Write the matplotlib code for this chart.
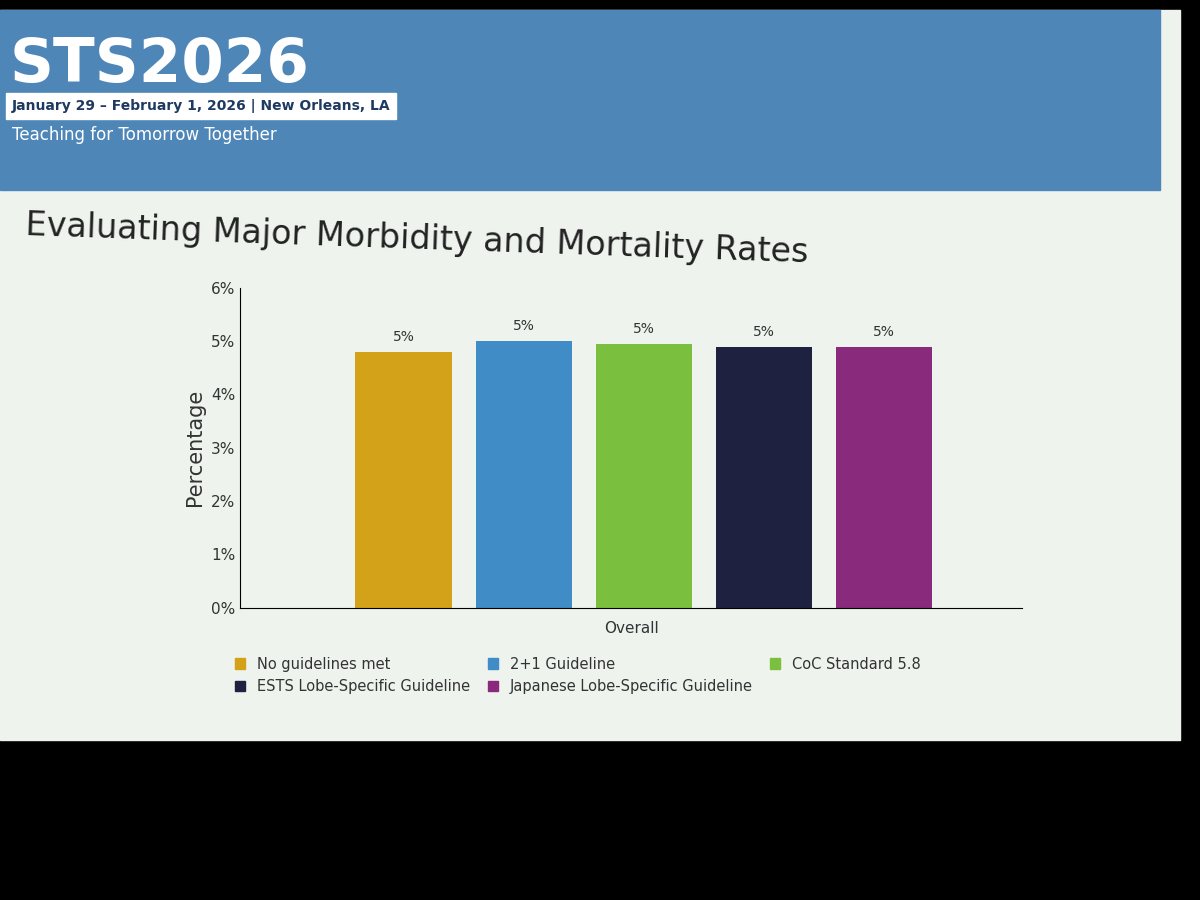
import matplotlib
matplotlib.use("Agg")
import matplotlib.pyplot as plt
from matplotlib.patches import Rectangle, Patch

categories = ["No guidelines met", "2+1 Guideline", "CoC Standard 5.8",
              "ESTS Lobe-Specific Guideline", "Japanese Lobe-Specific Guideline"]
values = [4.8, 5.0, 4.95, 4.9, 4.9]
labels = ["5%", "5%", "5%", "5%", "5%"]
colors = ["#D4A218", "#3F8CC6", "#7BBF3E", "#1E2240", "#8A2A7C"]
yticks = [0, 1, 2, 3, 4, 5, 6]

fig = plt.figure(figsize=(12, 9), dpi=100, facecolor="black")
bg = fig.add_axes([0, 0, 1, 1]); bg.set_xlim(0, 1200); bg.set_ylim(900, 0); bg.axis("off")
bg.add_patch(Rectangle((0, 10), 1180, 730, color="#EEF3EE"))
bg.add_patch(Rectangle((0, 10), 1160, 180, color="#4F86B8"))
bg.text(10, 95, "STS2026", fontsize=44, fontweight="bold", color="white", va="bottom")
bg.text(12, 110, "January 29 – February 1, 2026 | New Orleans, LA", fontsize=10, fontweight="bold",
        color="#1F3A60", backgroundcolor="white")
bg.text(12, 140, "Teaching for Tomorrow Together", fontsize=12, color="white")
bg.text(25, 235, "Evaluating Major Morbidity and Mortality Rates", fontsize=24, color="#222222",
        rotation=-2, rotation_mode="anchor")

ax = fig.add_axes([0.2, 0.325, 0.652, 0.355])
ax.set_facecolor("#EEF3EE")
x = range(len(categories))
ax.bar(x, values, color=colors, width=0.8)
for xi, v, lab in zip(x, values, labels):
    ax.text(xi, v + 0.15, lab, ha="center", va="bottom", fontsize=10, color="#333333")
ax.set_xlim(-1.36, 5.15)
ax.set_ylim(0, 6)
ax.set_yticks(yticks)
ax.set_yticklabels([f"{t}%" for t in yticks], fontsize=11, color="#333333")
ax.set_xticks([])
ax.set_xlabel("Overall", fontsize=11, color="#333333", labelpad=10)
ax.set_ylabel("Percentage", fontsize=15, color="#333333")
for s in ["top", "right"]:
    ax.spines[s].set_visible(False)
ax.tick_params(axis="y", length=0)

handles = [Patch(color=c, label=l) for c, l in zip(colors, categories)]
order = [0, 3, 1, 4, 2]
fig.legend(handles=[handles[i] for i in order], ncol=3, loc="upper left",
           bbox_to_anchor=(0.185, 0.285), frameon=False, fontsize=10.5,
           handlelength=0.7, handleheight=0.7, columnspacing=1.2, labelcolor="#333333")
fig.savefig("out.png", dpi=100, facecolor=fig.get_facecolor())
